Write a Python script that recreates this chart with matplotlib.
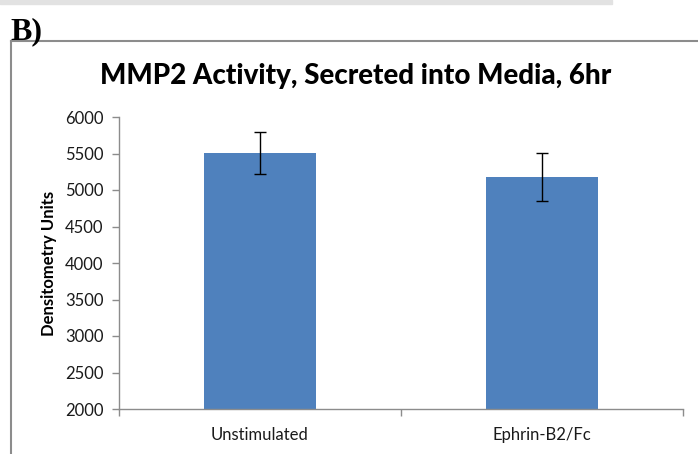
import matplotlib.pyplot as plt
from matplotlib.patches import Rectangle
from matplotlib.lines import Line2D
import numpy as np

# =========================
# Data
# =========================
categories = ["Unstimulated", "Ephrin-B2/Fc"]
values = [5510, 5180]
errors = [285, 325]
yticks = [2000, 2500, 3000, 3500, 4000, 4500, 5000, 5500, 6000]

title = "MMP2 Activity, Secreted into Media, 6hr"
ylabel = "Densitometry Units"
panel_label = "B)"

# =========================
# Figure
# =========================
W, H = 698, 454
fig = plt.figure(figsize=(W / 100, H / 100), dpi=100)
plt.rcParams['font.family'] = ['Lato', 'DejaVu Sans']

ax = fig.add_axes([119 / W, 1 - 409 / H, (683 - 119) / W, (409 - 117) / H])

x = np.arange(len(categories))
ax.bar(x, values, width=0.4, color="#4F81BD", zorder=2)
ax.errorbar(x, values, yerr=errors, fmt="none", ecolor="black",
            elinewidth=1.0, capsize=4.5, capthick=1.0, zorder=3)

ax.set_xlim(-0.5, len(categories) - 0.5)
ax.set_ylim(2000, 6000)
ax.set_yticks(yticks)
ax.set_yticklabels([str(v) for v in yticks], fontsize=12, color="#1a1a1a")
ax.set_xticks(x)
ax.set_xticklabels(categories, fontsize=12, color="#1a1a1a")
ax.tick_params(axis="x", length=0, pad=13)
ax.set_xticks([-0.5, 0.5, 1.5], minor=True)
ax.tick_params(axis="x", which="minor", length=5, color="#8c8c8c", width=1)
ax.tick_params(axis="y", length=5, color="#8c8c8c", width=1, pad=6)

for s in ["top", "right"]:
    ax.spines[s].set_visible(False)
for s in ["left", "bottom"]:
    ax.spines[s].set_color("#8c8c8c")
    ax.spines[s].set_linewidth(1)

ax.set_ylabel(ylabel, fontsize=12, fontweight="bold", labelpad=6)

fig.text(356 / W, 1 - 76 / H, title, fontsize=20, fontweight=900,
         ha="center", va="center", color="black")

# panel label and frame
fig.text(10 / W, 1 - 39 / H, panel_label, fontsize=23, fontweight="bold",
         family="Liberation Serif", ha="left", va="baseline")
fig.patches.append(Rectangle((0, 1 - 4 / H), 612 / W, 4 / H,
                             transform=fig.transFigure, color="#e2e2e2",
                             zorder=0))
fig.lines.append(Line2D([11 / W, 1.0], [1 - 41 / H, 1 - 41 / H],
                        transform=fig.transFigure, color="#8c8c8c", lw=1.5))
fig.lines.append(Line2D([11 / W, 11 / W], [0, 1 - 41 / H],
                        transform=fig.transFigure, color="#8c8c8c", lw=1.5))

plt.savefig("out.png", dpi=100)
